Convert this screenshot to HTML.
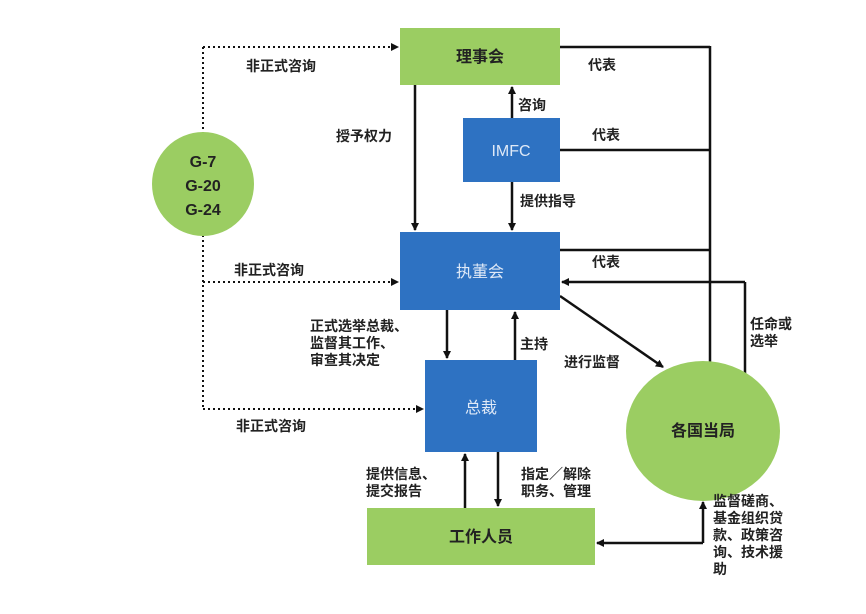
<!DOCTYPE html>
<html><head><meta charset="utf-8"><style>
body{margin:0;background:#fff}
svg text{font-family:"Liberation Sans","Noto Sans CJK SC",sans-serif;}
</style></head><body>
<svg width="866" height="609" viewBox="0 0 866 609" xmlns="http://www.w3.org/2000/svg">
<defs>
<marker id="a" markerWidth="8" markerHeight="8" refX="7" refY="4" orient="auto" markerUnits="userSpaceOnUse"><path d="M0,0 L8,4 L0,8z" fill="#111"/></marker>
</defs>
<g stroke="#111" stroke-width="2.5" fill="none">
<g stroke-dasharray="2,3" stroke-width="2">
<line x1="203" y1="47" x2="203" y2="133"/>
<line x1="203" y1="235" x2="203" y2="409"/>
<line x1="203" y1="47" x2="398" y2="47" marker-end="url(#a)"/>
<line x1="203" y1="282" x2="398" y2="282" marker-end="url(#a)"/>
<line x1="203" y1="409" x2="423" y2="409" marker-end="url(#a)"/>
</g>
<line x1="560" y1="47" x2="710" y2="47"/>
<line x1="560" y1="150" x2="710" y2="150"/>
<line x1="560" y1="250" x2="710" y2="250"/>
<line x1="710" y1="46" x2="710" y2="365"/>
<line x1="745" y1="282" x2="745" y2="378"/>
<line x1="745" y1="282" x2="562" y2="282" marker-end="url(#a)"/>
<line x1="415" y1="85" x2="415" y2="230" marker-end="url(#a)"/>
<line x1="512" y1="118" x2="512" y2="87" marker-end="url(#a)"/>
<line x1="512" y1="182" x2="512" y2="230" marker-end="url(#a)"/>
<line x1="447" y1="310" x2="447" y2="358" marker-end="url(#a)"/>
<line x1="515" y1="360" x2="515" y2="312" marker-end="url(#a)"/>
<line x1="560" y1="296" x2="663" y2="367" marker-end="url(#a)"/>
<line x1="465" y1="508" x2="465" y2="454" marker-end="url(#a)"/>
<line x1="498" y1="452" x2="498" y2="506" marker-end="url(#a)"/>
<polyline points="703,543 597,543" marker-end="url(#a)"/>
<line x1="703" y1="543" x2="703" y2="502" marker-end="url(#a)"/>
</g>
<rect x="400" y="28" width="160" height="57" fill="#9bcd62"/>
<rect x="463" y="118" width="97" height="64" fill="#2e72c2"/>
<rect x="400" y="232" width="160" height="78" fill="#2e72c2"/>
<rect x="425" y="360" width="112" height="92" fill="#2e72c2"/>
<rect x="367" y="508" width="228" height="57" fill="#9bcd62"/>
<ellipse cx="203" cy="184" rx="51" ry="52" fill="#9bcd62"/>
<ellipse cx="703" cy="431" rx="77" ry="70" fill="#9bcd62"/>
<g font-size="16" fill="#222" text-anchor="middle" font-weight="bold">
<text x="480" y="62">理事会</text>
<text x="481" y="542">工作人员</text>
<text x="703" y="436">各国当局</text>
<text x="203" y="167">G-7</text>
<text x="203" y="191">G-20</text>
<text x="203" y="215">G-24</text>
</g>
<g font-size="16" fill="#dfe9f7" text-anchor="middle">
<text x="511" y="156">IMFC</text>
<text x="480" y="277">执董会</text>
<text x="481" y="413">总裁</text>
</g>
<g font-size="14" fill="#222" font-weight="bold">
<text x="246" y="71">非正式咨询</text>
<text x="234" y="275">非正式咨询</text>
<text x="236" y="431">非正式咨询</text>
<text x="588" y="70">代表</text>
<text x="592" y="140">代表</text>
<text x="592" y="267">代表</text>
<text x="336" y="141">授予权力</text>
<text x="518" y="110">咨询</text>
<text x="520" y="206">提供指导</text>
<text x="310" y="331">正式选举总裁、</text>
<text x="310" y="348">监督其工作、</text>
<text x="310" y="365">审查其决定</text>
<text x="520" y="349">主持</text>
<text x="564" y="367">进行监督</text>
<text x="750" y="329">任命或</text>
<text x="750" y="346">选举</text>
<text x="366" y="479">提供信息、</text>
<text x="366" y="496">提交报告</text>
<text x="521" y="479">指定／解除</text>
<text x="521" y="496">职务、管理</text>
<text x="713" y="506">监督磋商、</text>
<text x="713" y="523">基金组织贷</text>
<text x="713" y="540">款、政策咨</text>
<text x="713" y="557">询、技术援</text>
<text x="713" y="574">助</text>
</g>
</svg>
</body></html>
